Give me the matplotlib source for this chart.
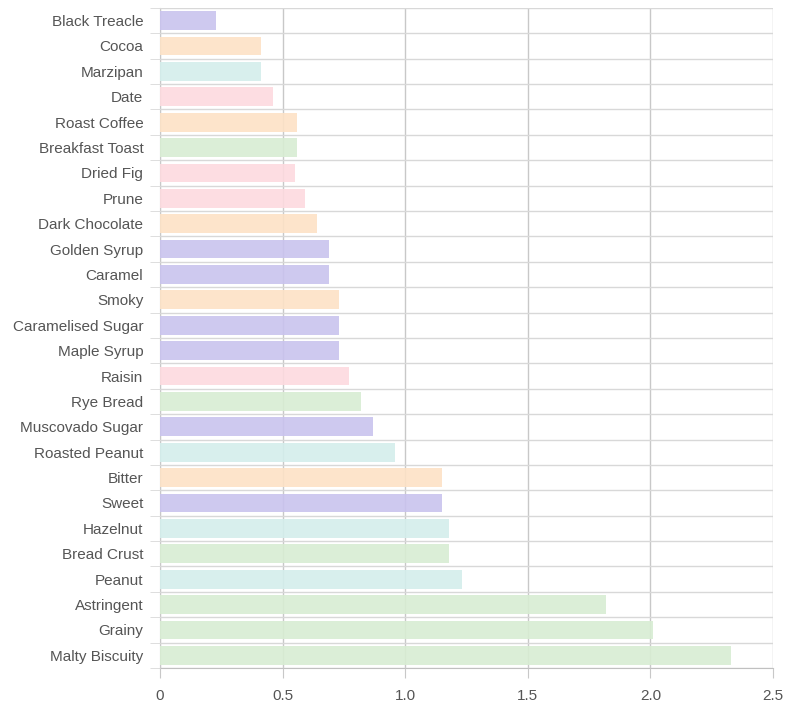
import matplotlib
matplotlib.use("Agg")
import matplotlib.pyplot as plt
import numpy as np

# flavour notes, top to bottom
notes = ['Black Treacle', 'Cocoa', 'Marzipan', 'Date', 'Roast Coffee',
         'Breakfast Toast', 'Dried Fig', 'Prune', 'Dark Chocolate',
         'Golden Syrup', 'Caramel', 'Smoky', 'Caramelised Sugar',
         'Maple Syrup', 'Raisin', 'Rye Bread', 'Muscovado Sugar',
         'Roasted Peanut', 'Bitter', 'Sweet', 'Hazelnut', 'Bread Crust',
         'Peanut', 'Astringent', 'Grainy', 'Malty Biscuity']
scores = [0.23, 0.41, 0.41, 0.46, 0.56, 0.56, 0.55, 0.59, 0.64, 0.69,
          0.69, 0.73, 0.73, 0.73, 0.77, 0.82, 0.87, 0.96, 1.15, 1.15,
          1.18, 1.18, 1.23, 1.82, 2.01, 2.33]
groups = ['sugar', 'roast', 'nut', 'fruit', 'roast', 'cereal', 'fruit',
          'fruit', 'roast', 'sugar', 'sugar', 'roast', 'sugar', 'sugar',
          'fruit', 'cereal', 'sugar', 'nut', 'roast', 'sugar', 'nut',
          'cereal', 'nut', 'cereal', 'cereal', 'cereal']

palette = {'sugar': '#c9c3ee', 'roast': '#fde2c6', 'nut': '#d4eeec',
           'fruit': '#fddadf', 'cereal': '#d8edd3'}

plt.rcParams['font.family'] = ['Liberation Sans', 'DejaVu Sans']

fig = plt.figure(figsize=(7.86, 7.06), dpi=100)
ax = fig.add_axes([0.2036, 0.0538, 0.78, 0.935])

y = np.arange(len(notes))
ax.barh(y, scores, height=0.74, color=[palette[g] for g in groups],
        alpha=0.9, zorder=3)

ax.set_ylim(len(notes) - 0.5, -0.5)
ax.set_xlim(0, 2.5)
ax.set_yticks(y)
ax.set_yticklabels(notes)
ax.set_yticks(np.arange(len(notes) + 1) - 0.5, minor=True)
ax.set_xticks([0, 0.5, 1.0, 1.5, 2.0, 2.5])
ax.set_xticklabels(['0', '0.5', '1.0', '1.5', '2.0', '2.5'])

ax.grid(axis='x', color='#c8c8c8', lw=1, zorder=4)
ax.grid(axis='y', which='minor', color='#d8d8d8', lw=1, zorder=1)
ax.tick_params(axis='y', which='major', length=0, pad=12,
               labelsize=11, labelcolor='#555555')
ax.tick_params(axis='y', which='minor', length=7, color='#d8d8d8')
ax.tick_params(axis='x', length=7, color='#c8c8c8', pad=8,
               labelsize=11, labelcolor='#555555')
ax.set_axisbelow(False)
for s in ['top', 'right']:
    ax.spines[s].set_visible(False)
ax.spines['left'].set_color('#c0c0c0')
ax.spines['bottom'].set_color('#c0c0c0')

fig.savefig('out.png', dpi=100)
